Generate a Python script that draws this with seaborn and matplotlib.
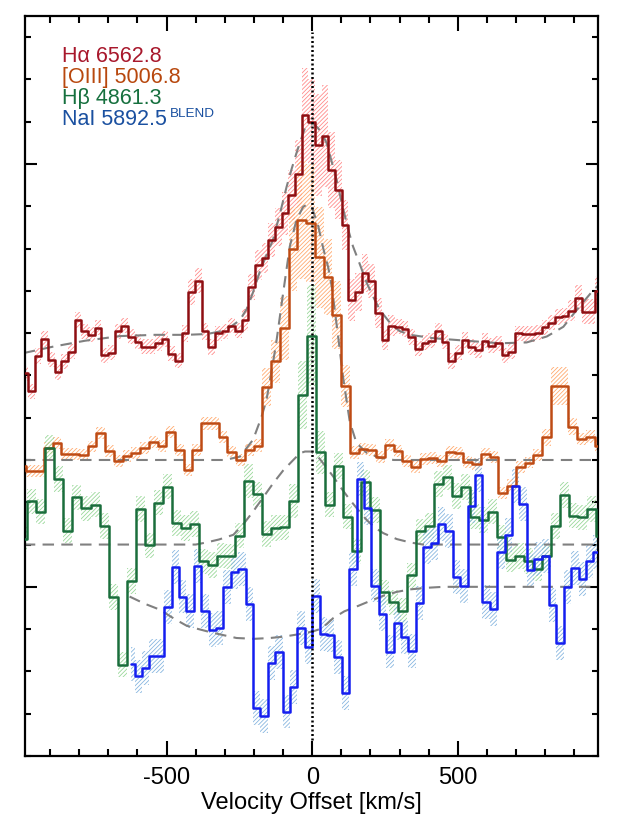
import numpy as np
import matplotlib
matplotlib.use('Agg')
import matplotlib.pyplot as plt
from matplotlib.ticker import MultipleLocator
import seaborn as sns

# velocity grid of each spectrum: first bin centre and bin width (km/s)
ha_v0, ha_dv = -986.8, 22.9
oiii_v0, oiii_dv = -996.0, 30.0
hb_v0, hb_dv = -993.5, 31.0
nai_v0, nai_dv = -622.3, 25.4

# normalised flux (with vertical offsets)
ha_flux = [0.505, 0.462, 0.546, 0.586, 0.537, 0.508, 0.533, 0.556, 0.631, 0.604,
           0.596, 0.613, 0.548, 0.554, 0.604, 0.618, 0.592, 0.580, 0.568, 0.568,
           0.576, 0.586, 0.551, 0.535, 0.600, 0.697, 0.724, 0.604, 0.567, 0.600,
           0.604, 0.618, 0.606, 0.631, 0.709, 0.761, 0.777, 0.820, 0.852, 0.883,
           0.927, 0.976, 1.116, 1.100, 1.045, 1.066, 0.986, 0.939, 0.856, 0.678,
           0.697, 0.742, 0.724, 0.648, 0.584, 0.618, 0.615, 0.610, 0.591, 0.563,
           0.577, 0.582, 0.606, 0.580, 0.534, 0.554, 0.584, 0.567, 0.559, 0.582,
           0.570, 0.576, 0.548, 0.556, 0.600, 0.598, 0.598, 0.601, 0.614, 0.625,
           0.638, 0.641, 0.653, 0.683, 0.651, 0.651, 0.700]
ha_err = [0.018, 0.018, 0.018, 0.018, 0.018, 0.018, 0.018, 0.018, 0.018, 0.018,
          0.018, 0.018, 0.018, 0.018, 0.018, 0.018, 0.018, 0.018, 0.018, 0.018,
          0.018, 0.018, 0.018, 0.018, 0.020, 0.030, 0.030, 0.020, 0.018, 0.018,
          0.018, 0.018, 0.018, 0.025, 0.030, 0.035, 0.035, 0.040, 0.045, 0.050,
          0.060, 0.080, 0.110, 0.100, 0.120, 0.120, 0.090, 0.070, 0.060, 0.050,
          0.045, 0.045, 0.040, 0.035, 0.025, 0.025, 0.018, 0.018, 0.018, 0.018,
          0.018, 0.018, 0.018, 0.018, 0.018, 0.018, 0.018, 0.018, 0.018, 0.018,
          0.018, 0.018, 0.018, 0.018, 0.018, 0.018, 0.018, 0.018, 0.018, 0.018,
          0.018, 0.018, 0.025, 0.030, 0.030, 0.030, 0.035]

oiii_flux = [0.286, 0.273, 0.273, 0.329, 0.340, 0.314, 0.314, 0.311, 0.332, 0.363,
             0.322, 0.298, 0.310, 0.316, 0.328, 0.342, 0.334, 0.367, 0.324, 0.277,
             0.324, 0.387, 0.387, 0.354, 0.320, 0.299, 0.324, 0.334, 0.473, 0.533,
             0.612, 0.799, 0.868, 0.861, 0.779, 0.732, 0.643, 0.475, 0.317, 0.326,
             0.324, 0.307, 0.336, 0.322, 0.298, 0.283, 0.302, 0.304, 0.298, 0.318,
             0.316, 0.296, 0.291, 0.314, 0.308, 0.222, 0.239, 0.283, 0.294, 0.312,
             0.354, 0.474, 0.475, 0.379, 0.350, 0.355, 0.332]
oiii_err = [0.014, 0.014, 0.014, 0.014, 0.014, 0.014, 0.014, 0.014, 0.014, 0.014,
            0.014, 0.014, 0.014, 0.014, 0.014, 0.014, 0.014, 0.014, 0.014, 0.014,
            0.014, 0.015, 0.015, 0.015, 0.014, 0.014, 0.014, 0.015, 0.045, 0.050,
            0.075, 0.100, 0.140, 0.140, 0.120, 0.090, 0.080, 0.050, 0.015, 0.014,
            0.014, 0.014, 0.014, 0.014, 0.014, 0.014, 0.014, 0.014, 0.014, 0.014,
            0.014, 0.014, 0.014, 0.014, 0.014, 0.015, 0.015, 0.014, 0.014, 0.015,
            0.020, 0.045, 0.045, 0.020, 0.015, 0.015, 0.015]

hb_flux = [0.113, 0.202, 0.178, 0.328, 0.255, 0.133, 0.212, 0.186, 0.194, 0.144,
           -0.024, -0.184, 0.014, 0.184, 0.098, 0.199, 0.237, 0.151, 0.139, 0.149,
           0.060, 0.052, 0.074, 0.072, 0.121, 0.251, 0.219, 0.125, 0.139, 0.141,
           0.203, 0.454, 0.594, 0.318, 0.194, 0.286, 0.166, 0.085, 0.247, 0.182,
           -0.013, -0.037, -0.056, 0.027, 0.131, 0.145, 0.243, 0.259, 0.215, 0.236,
           0.166, 0.158, 0.178, 0.117, 0.064, 0.073, 0.061, 0.043, 0.072, 0.144,
           0.217, 0.168, 0.164, 0.184, 0.121]
hb_err = [0.030, 0.030, 0.030, 0.030, 0.030, 0.030, 0.030, 0.030, 0.030, 0.030,
          0.030, 0.030, 0.030, 0.030, 0.030, 0.030, 0.030, 0.030, 0.030, 0.030,
          0.030, 0.030, 0.030, 0.030, 0.030, 0.040, 0.030, 0.030, 0.030, 0.030,
          0.040, 0.080, 0.120, 0.050, 0.030, 0.030, 0.030, 0.030, 0.030, 0.030,
          0.030, 0.030, 0.030, 0.030, 0.030, 0.030, 0.030, 0.030, 0.030, 0.030,
          0.030, 0.030, 0.030, 0.030, 0.030, 0.030, 0.030, 0.030, 0.030, 0.030,
          0.030, 0.030, 0.030, 0.030, 0.030]

nai_flux = [-0.182, -0.212, -0.192, -0.163, -0.163, -0.047, 0.046, -0.023, -0.057, 0.050,
            -0.057, -0.103, -0.098, -0.001, 0.036, 0.043, -0.040, -0.287, -0.305, -0.180,
            -0.155, -0.295, -0.237, -0.098, -0.143, -0.021, -0.111, -0.115, -0.165, -0.251,
            0.043, 0.255, 0.187, 0.003, -0.065, -0.153, -0.086, -0.119, -0.151, -0.039,
            0.095, 0.103, 0.149, 0.133, 0.023, 0.001, 0.190, 0.265, -0.035, -0.053,
            0.082, 0.123, 0.239, 0.196, 0.039, 0.066, 0.073, -0.043, -0.133, -0.001,
            0.044, 0.019, 0.060, 0.082]
nai_err = [0.040, 0.040, 0.040, 0.040, 0.040, 0.040, 0.040, 0.040, 0.040, 0.040,
           0.040, 0.040, 0.040, 0.040, 0.040, 0.040, 0.040, 0.040, 0.040, 0.040,
           0.040, 0.040, 0.040, 0.040, 0.040, 0.040, 0.040, 0.040, 0.040, 0.040,
           0.040, 0.040, 0.040, 0.040, 0.040, 0.040, 0.040, 0.040, 0.040, 0.040,
           0.040, 0.040, 0.040, 0.040, 0.040, 0.040, 0.040, 0.040, 0.040, 0.040,
           0.040, 0.040, 0.040, 0.040, 0.040, 0.040, 0.040, 0.040, 0.040, 0.040,
           0.040, 0.040, 0.040, 0.040]

# model fits (dashed grey), sampled off the plot
ha_model_v = [-990, -890, -780, -660, -540, -431, -360, -317, -280, -248,
              -225, -204, -180, -160, -135, -110, -88, -70, -54, -40,
              -25, -8, 3, 20, 35, 49, 65, 84, 104, 124,
              140, 158, 187, 210, 232, 273, 300, 336, 416, 530,
              645, 736, 805, 862, 908, 965, 985]
ha_model_f = [0.553, 0.568, 0.582, 0.593, 0.596, 0.596, 0.598, 0.604, 0.615, 0.631,
              0.657, 0.695, 0.745, 0.780, 0.820, 0.885, 0.946, 0.990, 1.026, 1.055,
              1.085, 1.093, 1.095, 1.085, 1.070, 1.050, 1.010, 0.962, 0.900, 0.844,
              0.805, 0.773, 0.719, 0.685, 0.655, 0.619, 0.605, 0.596, 0.588, 0.582,
              0.576, 0.578, 0.592, 0.615, 0.655, 0.702, 0.715]
oiii_model_v = [-990, -300, -248, -203, -175, -157, -145, -125, -100, -77, -54, -31, -15,
                0, 20, 38, 55, 67, 89, 105, 129, 152, 187, 232, 280, 985]
oiii_model_f = [0.300, 0.300, 0.308, 0.348, 0.400, 0.442, 0.489, 0.570, 0.694, 0.805, 0.868, 0.899, 0.905,
                0.895, 0.855, 0.800, 0.755, 0.710, 0.592, 0.500, 0.390, 0.340, 0.317, 0.305, 0.300, 0.300]
hb_model_v = [-990, -400, -363, -320, -271, -240, -203, -170, -134, -100, -65, -42, -25,
              -5, 15, 40, 72, 100, 129, 160, 187, 215, 244, 290, 336, 380, 985]
hb_model_f = [0.100, 0.100, 0.105, 0.112, 0.123, 0.145, 0.178, 0.210, 0.245, 0.275, 0.300, 0.316, 0.320,
              0.320, 0.312, 0.290, 0.261, 0.233, 0.206, 0.180, 0.158, 0.140, 0.127, 0.113, 0.105, 0.100, 0.100]
nai_model_v = [-627, -575, -523, -475, -431, -390, -351, -300, -260, -200, -145, -100, -54,
               0, 26, 50, 72, 110, 158, 200, 244, 290, 336, 400, 450, 985]
nai_model_f = [-0.023, -0.040, -0.054, -0.075, -0.092, -0.100, -0.107, -0.115, -0.121, -0.123, -0.121, -0.118, -0.113,
               -0.106, -0.100, -0.088, -0.074, -0.058, -0.045, -0.033, -0.021, -0.012, -0.006, -0.002, 0.000, 0.000]

labels = ['H\u03b1 6562.8', '[OIII] 5006.8', 'H\u03b2 4861.3', 'NaI 5892.5']
label_colors = ['#A8182C', '#B8480E', '#16703E', '#1A50A0']
line_colors = ['#8E0E12', '#BE4B14', '#1A6E3C', '#141EF0']
hatch_colors = ['#FF8C8C', '#FFAA70', '#9AD89A', '#88B6E0']

sns.set_theme(style='ticks')
plt.rcParams['font.family'] = ['Liberation Sans', 'DejaVu Sans']
plt.rcParams['axes.unicode_minus'] = False
plt.rcParams['hatch.linewidth'] = 0.6
plt.rcParams['text.color'] = 'black'
plt.rcParams['axes.labelcolor'] = 'black'
plt.rcParams['xtick.color'] = 'black'
plt.rcParams['ytick.color'] = 'black'

fig = plt.figure(figsize=(6.23, 8.30), dpi=100)
ax = fig.add_axes([0.0401, 0.0892, 0.9198, 0.8915])

spectra = [
    (ha_v0, ha_dv, ha_flux, ha_err, ha_model_v, ha_model_f),
    (oiii_v0, oiii_dv, oiii_flux, oiii_err, oiii_model_v, oiii_model_f),
    (hb_v0, hb_dv, hb_flux, hb_err, hb_model_v, hb_model_f),
    (nai_v0, nai_dv, nai_flux, nai_err, nai_model_v, nai_model_f),
]

for i, (v0, dv, flux, err, mv, mf) in enumerate(spectra):
    flux = np.array(flux)
    err = np.array(err)
    vel = v0 + dv * np.arange(len(flux))
    ax.fill_between(vel, flux - err, flux + err, step='mid', facecolor='none',
                    edgecolor=hatch_colors[i], hatch='////////', linewidth=0, zorder=1)
    sns.lineplot(x=mv, y=mf, color='#808080', lw=1.5, linestyle=(0, (5.5, 3.5)),
                 ax=ax, zorder=2, legend=False)
    sns.lineplot(x=vel, y=flux, drawstyle='steps-mid', color=line_colors[i], lw=1.8,
                 ax=ax, zorder=3, legend=False)

ax.axvline(0, ymin=0.022, ymax=0.978, color='black', lw=1.8, ls=(0, (0.8, 1.0)), zorder=4)

ax.set_xlim(-986, 981)
ax.set_ylim(-0.40, 1.35)
ax.set_xticks([-500, 0, 500])
ax.set_xticklabels(['-500', '0', '500'])
ax.xaxis.set_minor_locator(MultipleLocator(100))
ax.set_yticks([0, 1])
ax.yaxis.set_minor_locator(MultipleLocator(0.1))
ax.tick_params(which='both', direction='in', top=True, right=True, width=1.5, color='black')
ax.tick_params(axis='x', which='major', length=10.8, pad=8, labelsize=17, labelcolor='black')
ax.tick_params(axis='x', which='minor', length=5)
ax.tick_params(axis='y', which='major', length=8.6, labelleft=False)
ax.tick_params(axis='y', which='minor', length=4.3)
for s in ax.spines.values():
    s.set_linewidth(1.6)
    s.set_color('black')
ax.set_xlabel('Velocity Offset [km/s]', fontsize=17, labelpad=2, color='black')
ax.set_ylabel('')

label_y = [0.938, 0.9095, 0.881, 0.853]
for text, c, y in zip(labels, label_colors, label_y):
    ax.text(0.064, y, text, color=c, fontsize=15.5, transform=ax.transAxes, va='baseline')
ax.text(0.253, 0.863, 'BLEND', color=label_colors[3], fontsize=9.7,
        transform=ax.transAxes, va='baseline')

fig.savefig('out.png', dpi=100)
